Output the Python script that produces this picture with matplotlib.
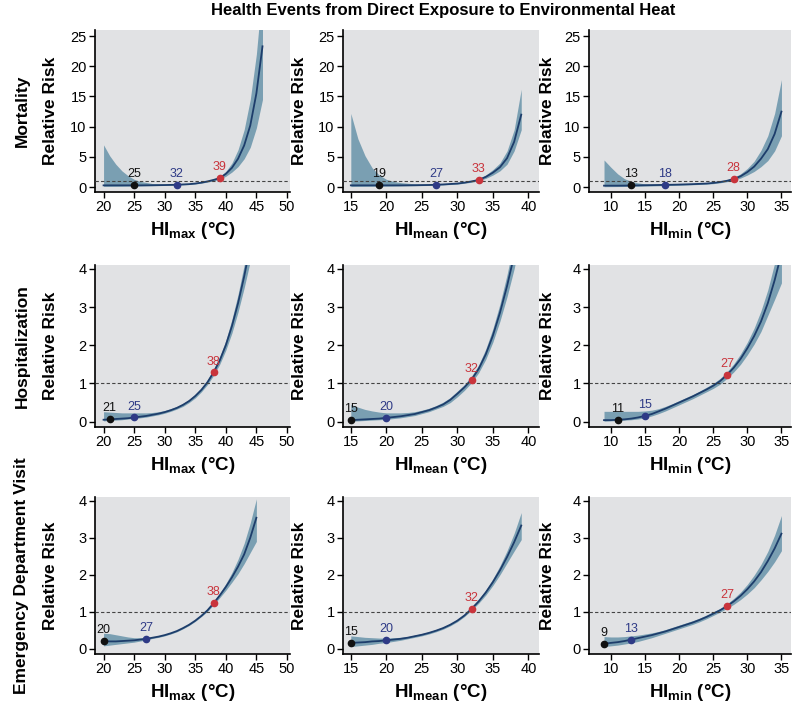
import matplotlib
matplotlib.use("Agg")
import matplotlib.pyplot as plt

plt.rcParams['font.family'] = ['Liberation Sans Narrow', 'Liberation Sans', 'DejaVu Sans']
plt.rcParams['mathtext.fontset'] = 'custom'
plt.rcParams['mathtext.bf'] = 'Liberation Sans:bold'
plt.rcParams['mathtext.rm'] = 'Liberation Sans'

# ---- data ----
row_names = ["Mortality", "Hospitalization", "Emergency Department Visit"]
col_subs = ["max", "mean", "min"]

# Mortality
mort_max_x = [20, 21, 22, 23, 24, 25, 26, 28, 30, 32, 34, 35, 36, 37, 38, 39, 40, 41, 42, 43, 44, 45, 46]
mort_max_rr = [0.3, 0.3, 0.3, 0.3, 0.3, 0.3, 0.3, 0.32, 0.35, 0.4, 0.5, 0.6, 0.75, 0.95, 1.2, 1.5, 2.2, 3.2, 4.7, 6.9, 10.2, 15.5, 23.3]
mort_max_lo = [0.12, 0.13, 0.14, 0.15, 0.17, 0.19, 0.2, 0.24, 0.28, 0.34, 0.44, 0.53, 0.66, 0.84, 1.05, 1.3, 1.8, 2.5, 3.4, 4.7, 6.6, 9.8, 14.5]
mort_max_hi = [7.0, 5.2, 3.8, 2.7, 1.9, 1.3, 0.95, 0.6, 0.5, 0.5, 0.6, 0.7, 0.86, 1.08, 1.38, 1.75, 2.6, 4.0, 6.2, 9.5, 14.5, 22, 33]

mort_mean_x = [15, 16, 17, 18, 19, 20, 21, 22, 24, 26, 27, 28, 30, 31, 32, 33, 34, 35, 36, 37, 38, 39]
mort_mean_rr = [0.3, 0.3, 0.3, 0.3, 0.3, 0.3, 0.3, 0.3, 0.32, 0.36, 0.4, 0.45, 0.6, 0.75, 0.95, 1.2, 1.7, 2.4, 3.3, 4.8, 7.5, 12.0]
mort_mean_lo = [0.1, 0.12, 0.13, 0.14, 0.15, 0.17, 0.18, 0.2, 0.24, 0.28, 0.32, 0.37, 0.5, 0.65, 0.82, 1.05, 1.45, 2.0, 2.7, 3.8, 6.0, 9.5]
mort_mean_hi = [12.2, 8.0, 5.2, 3.2, 2.0, 1.3, 0.95, 0.75, 0.55, 0.5, 0.52, 0.56, 0.72, 0.87, 1.1, 1.4, 2.0, 2.9, 4.0, 6.0, 9.5, 16.2]

mort_min_x = [9, 10, 11, 12, 13, 14, 15, 16, 18, 20, 22, 24, 25, 26, 27, 28, 29, 30, 31, 32, 33, 34, 35]
mort_min_rr = [0.25, 0.25, 0.25, 0.26, 0.28, 0.3, 0.32, 0.34, 0.38, 0.43, 0.5, 0.6, 0.7, 0.85, 1.05, 1.35, 1.8, 2.5, 3.4, 4.7, 6.3, 8.8, 12.5]
mort_min_lo = [0.08, 0.09, 0.1, 0.11, 0.13, 0.15, 0.18, 0.2, 0.26, 0.32, 0.4, 0.5, 0.58, 0.72, 0.9, 1.15, 1.5, 2.0, 2.6, 3.4, 4.4, 6.0, 8.5]
mort_min_hi = [4.5, 3.3, 2.2, 1.4, 0.95, 0.7, 0.55, 0.5, 0.48, 0.52, 0.6, 0.72, 0.82, 1.0, 1.22, 1.6, 2.2, 3.1, 4.3, 6.1, 8.5, 12.2, 17.8]

# Hospitalization
hosp_max_x = [20, 21, 22, 23, 24, 25, 26, 27, 28, 29, 30, 31, 32, 33, 34, 35, 36, 37, 38, 39, 40, 41, 42, 43, 44]
hosp_max_rr = [0.05, 0.06, 0.07, 0.08, 0.09, 0.11, 0.13, 0.15, 0.18, 0.21, 0.25, 0.3, 0.36, 0.44, 0.54, 0.67, 0.83, 1.03, 1.29, 1.6, 2.0, 2.5, 3.1, 3.8, 4.6]
hosp_max_lo = [0.02, 0.03, 0.04, 0.05, 0.07, 0.08, 0.1, 0.12, 0.15, 0.18, 0.22, 0.27, 0.33, 0.4, 0.5, 0.62, 0.78, 0.97, 1.21, 1.5, 1.87, 2.32, 2.87, 3.5, 4.2]
hosp_max_hi = [0.26, 0.25, 0.24, 0.23, 0.23, 0.23, 0.23, 0.23, 0.24, 0.26, 0.29, 0.34, 0.4, 0.48, 0.58, 0.72, 0.89, 1.1, 1.37, 1.7, 2.13, 2.68, 3.33, 4.1, 5.0]

hosp_mean_x = [15, 16, 17, 18, 19, 20, 21, 22, 23, 24, 25, 26, 27, 28, 29, 30, 31, 32, 33, 34, 35, 36, 37, 38, 39]
hosp_mean_rr = [0.04, 0.05, 0.06, 0.07, 0.08, 0.1, 0.12, 0.14, 0.17, 0.2, 0.25, 0.3, 0.37, 0.45, 0.57, 0.73, 0.9, 1.1, 1.38, 1.76, 2.25, 2.85, 3.55, 4.35, 5.3]
hosp_mean_lo = [0.01, 0.02, 0.03, 0.04, 0.05, 0.06, 0.08, 0.1, 0.13, 0.16, 0.21, 0.26, 0.33, 0.4, 0.5, 0.65, 0.82, 1.02, 1.28, 1.63, 2.08, 2.63, 3.27, 4.0, 4.9]
hosp_mean_hi = [0.45, 0.38, 0.32, 0.28, 0.25, 0.23, 0.23, 0.23, 0.24, 0.26, 0.3, 0.35, 0.42, 0.51, 0.63, 0.8, 0.97, 1.19, 1.48, 1.9, 2.43, 3.08, 3.85, 4.72, 5.7]

hosp_min_x = [9, 10, 11, 12, 13, 14, 15, 16, 17, 18, 19, 20, 21, 22, 23, 24, 25, 26, 27, 28, 29, 30, 31, 32, 33, 34, 35]
hosp_min_rr = [0.04, 0.04, 0.05, 0.06, 0.08, 0.11, 0.15, 0.2, 0.27, 0.34, 0.42, 0.5, 0.58, 0.66, 0.75, 0.84, 0.94, 1.06, 1.22, 1.41, 1.64, 1.92, 2.24, 2.62, 3.1, 3.7, 4.4]
hosp_min_lo = [0.01, 0.02, 0.03, 0.04, 0.05, 0.07, 0.1, 0.15, 0.21, 0.28, 0.36, 0.44, 0.52, 0.6, 0.69, 0.78, 0.87, 0.98, 1.13, 1.3, 1.5, 1.75, 2.03, 2.36, 2.78, 3.2, 3.63]
hosp_min_hi = [0.27, 0.27, 0.27, 0.27, 0.27, 0.27, 0.28, 0.3, 0.34, 0.4, 0.47, 0.55, 0.63, 0.71, 0.8, 0.9, 1.0, 1.13, 1.3, 1.51, 1.77, 2.08, 2.45, 2.9, 3.45, 4.15, 5.0]

# Emergency department visit
ed_max_x = [20, 21, 22, 23, 24, 25, 26, 27, 28, 29, 30, 31, 32, 33, 34, 35, 36, 37, 38, 39, 40, 41, 42, 43, 44, 45]
ed_max_rr = [0.21, 0.2, 0.2, 0.21, 0.22, 0.23, 0.25, 0.27, 0.3, 0.33, 0.37, 0.42, 0.48, 0.56, 0.65, 0.76, 0.89, 1.04, 1.23, 1.44, 1.67, 1.93, 2.22, 2.55, 3.0, 3.54]
ed_max_lo = [0.08, 0.1, 0.12, 0.14, 0.16, 0.18, 0.21, 0.24, 0.28, 0.31, 0.35, 0.4, 0.46, 0.54, 0.63, 0.74, 0.87, 1.01, 1.19, 1.38, 1.58, 1.8, 2.03, 2.3, 2.6, 2.9]
ed_max_hi = [0.42, 0.41, 0.38, 0.35, 0.32, 0.3, 0.3, 0.3, 0.32, 0.35, 0.39, 0.44, 0.5, 0.58, 0.67, 0.78, 0.91, 1.07, 1.27, 1.5, 1.76, 2.06, 2.42, 2.85, 3.4, 4.05]

ed_mean_x = [15, 16, 17, 18, 19, 20, 21, 22, 23, 24, 25, 26, 27, 28, 29, 30, 31, 32, 33, 34, 35, 36, 37, 38, 39]
ed_mean_rr = [0.16, 0.17, 0.18, 0.2, 0.21, 0.23, 0.25, 0.27, 0.3, 0.34, 0.38, 0.43, 0.49, 0.56, 0.65, 0.76, 0.9, 1.08, 1.28, 1.52, 1.8, 2.12, 2.48, 2.88, 3.33]
ed_mean_lo = [0.06, 0.08, 0.1, 0.12, 0.15, 0.17, 0.2, 0.23, 0.27, 0.31, 0.35, 0.4, 0.46, 0.53, 0.62, 0.73, 0.87, 1.04, 1.23, 1.45, 1.71, 2.0, 2.32, 2.64, 2.95]
ed_mean_hi = [0.35, 0.33, 0.31, 0.3, 0.29, 0.29, 0.3, 0.31, 0.33, 0.37, 0.41, 0.46, 0.52, 0.59, 0.68, 0.79, 0.93, 1.12, 1.33, 1.59, 1.89, 2.24, 2.65, 3.12, 3.68]

ed_min_x = [9, 10, 11, 12, 13, 14, 15, 16, 17, 18, 19, 20, 21, 22, 23, 24, 25, 26, 27, 28, 29, 30, 31, 32, 33, 34, 35]
ed_min_rr = [0.14, 0.16, 0.18, 0.21, 0.25, 0.29, 0.33, 0.37, 0.42, 0.47, 0.53, 0.59, 0.65, 0.71, 0.78, 0.86, 0.95, 1.04, 1.15, 1.28, 1.43, 1.61, 1.82, 2.07, 2.37, 2.71, 3.11]
ed_min_lo = [0.06, 0.08, 0.1, 0.13, 0.16, 0.2, 0.25, 0.3, 0.36, 0.42, 0.48, 0.54, 0.6, 0.66, 0.73, 0.81, 0.9, 0.99, 1.09, 1.2, 1.33, 1.48, 1.65, 1.86, 2.09, 2.35, 2.65]
ed_min_hi = [0.33, 0.32, 0.32, 0.33, 0.35, 0.37, 0.4, 0.43, 0.47, 0.52, 0.58, 0.64, 0.7, 0.76, 0.83, 0.91, 1.0, 1.09, 1.21, 1.36, 1.53, 1.74, 1.99, 2.28, 2.63, 3.07, 3.6]

# marked temperatures (black, blue, red) and their RR
mort_max_pts, mort_max_pts_y = [25, 32, 39], [0.3, 0.4, 1.5]
mort_mean_pts, mort_mean_pts_y = [19, 27, 33], [0.3, 0.4, 1.2]
mort_min_pts, mort_min_pts_y = [13, 18, 28], [0.3, 0.38, 1.35]
hosp_max_pts, hosp_max_pts_y = [21, 25, 38], [0.06, 0.11, 1.29]
hosp_mean_pts, hosp_mean_pts_y = [15, 20, 32], [0.04, 0.1, 1.1]
hosp_min_pts, hosp_min_pts_y = [11, 15, 27], [0.05, 0.15, 1.22]
ed_max_pts, ed_max_pts_y = [20, 27, 38], [0.21, 0.27, 1.23]
ed_mean_pts, ed_mean_pts_y = [15, 20, 32], [0.16, 0.23, 1.08]
ed_min_pts, ed_min_pts_y = [9, 13, 27], [0.14, 0.25, 1.15]

x_ticks = [[20, 25, 30, 35, 40, 45, 50], [15, 20, 25, 30, 35, 40], [10, 15, 20, 25, 30, 35]]
x_lims = [(18.6, 50.5), (13.9, 41.5), (6.8, 36.4)]
y_ticks = [[0, 5, 10, 15, 20, 25], [0, 1, 2, 3, 4], [0, 1, 2, 3, 4]]
y_lims = [(-0.8, 26), (-0.14, 4.1), (-0.14, 4.1)]

panels = [
    [(mort_max_x, mort_max_rr, mort_max_lo, mort_max_hi, mort_max_pts, mort_max_pts_y),
     (mort_mean_x, mort_mean_rr, mort_mean_lo, mort_mean_hi, mort_mean_pts, mort_mean_pts_y),
     (mort_min_x, mort_min_rr, mort_min_lo, mort_min_hi, mort_min_pts, mort_min_pts_y)],
    [(hosp_max_x, hosp_max_rr, hosp_max_lo, hosp_max_hi, hosp_max_pts, hosp_max_pts_y),
     (hosp_mean_x, hosp_mean_rr, hosp_mean_lo, hosp_mean_hi, hosp_mean_pts, hosp_mean_pts_y),
     (hosp_min_x, hosp_min_rr, hosp_min_lo, hosp_min_hi, hosp_min_pts, hosp_min_pts_y)],
    [(ed_max_x, ed_max_rr, ed_max_lo, ed_max_hi, ed_max_pts, ed_max_pts_y),
     (ed_mean_x, ed_mean_rr, ed_mean_lo, ed_mean_hi, ed_mean_pts, ed_mean_pts_y),
     (ed_min_x, ed_min_rr, ed_min_lo, ed_min_hi, ed_min_pts, ed_min_pts_y)],
]

# ---- styling ----
BG = '#e1e2e4'
BAND = '#6f98ad'
LINE = '#1d3d6b'
PT_COLORS = ['#111111', '#2e3a86', '#c9343c']

W, H = 800, 712
row_px = [(30, 192), (265, 427), (497, 654)]
col_px = [(95, 290), (343, 539), (589, 791)]
ylabel_x = [-0.19, -0.184, -0.168]   # axes-fraction position of "Relative Risk"

fig = plt.figure(figsize=(W / 100, H / 100), dpi=100)

for r, (top, bot) in enumerate(row_px):
    for c, (lft, rgt) in enumerate(col_px):
        ax = fig.add_axes([lft / W, 1 - bot / H, (rgt - lft) / W, (bot - top) / H])
        x, rr, lo, hi, pts, pts_y = panels[r][c]
        ax.set_facecolor(BG)
        ax.fill_between(x, lo, hi, color=BAND, linewidth=0, alpha=0.9, zorder=2)
        ax.plot(x, rr, color=LINE, lw=1.3, zorder=3)
        ax.axhline(1, color='#444444', lw=0.8, ls=(0, (3, 2)), zorder=4)
        for p, py, col in zip(pts, pts_y, PT_COLORS):
            ax.plot(p, py, 'o', ms=4.5, color=col, zorder=5)
            ax.annotate(str(p), (p, py), xytext=(0, 3.5), textcoords='offset points',
                        ha='center', va='bottom', fontsize=9, color=col, zorder=6)
        ax.set_xlim(*x_lims[c])
        ax.set_ylim(*y_lims[r])
        ax.set_xticks(x_ticks[c])
        ax.set_yticks(y_ticks[r])
        for s in ['top', 'right']:
            ax.spines[s].set_visible(False)
        for s in ['left', 'bottom']:
            ax.spines[s].set_linewidth(1.2)
        ax.tick_params(direction='out', length=4, width=1, labelsize=10.5, pad=2)
        ax.set_ylabel('Relative Risk', fontsize=12.5, fontweight='bold')
        ax.yaxis.set_label_coords(ylabel_x[c], 0.5)
        ax.set_xlabel(r'$\mathbf{HI_{%s}}$ (°C)' % col_subs[c], fontsize=13.5,
                      fontweight='bold', labelpad=4)

    fig.text(22 / W, 1 - (top + bot) / 2 / H, row_names[r], rotation=90,
             ha='center', va='center', fontsize=12.5, fontweight='bold')

fig.text(443 / W, 1 - 11 / H, 'Health Events from Direct Exposure to Environmental Heat',
         ha='center', va='center', fontsize=12, fontweight='bold')

fig.savefig('out.png', dpi=100, facecolor='white')
